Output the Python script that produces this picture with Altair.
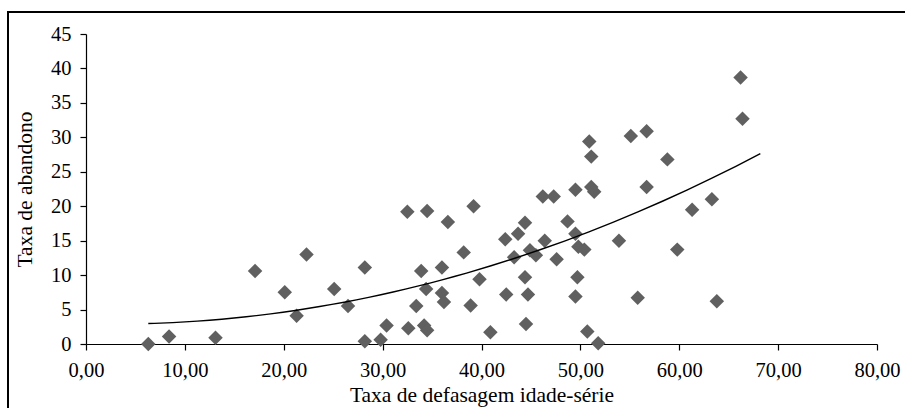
import altair as alt
import pandas as pd

# Taxa de defasagem idade-série (x) vs. taxa de abandono (y), one point per unit
defasagem = [
    6.3, 8.4, 13.1, 17.1, 20.1, 21.3, 22.3, 25.1, 26.5, 28.2,
    28.2, 29.8, 30.4, 32.5, 32.6, 33.4, 33.9, 34.2, 34.5, 34.4,
    34.5, 36.0, 36.0, 36.2, 36.6, 38.2, 38.9, 39.2, 39.8, 40.9,
    42.4, 42.5, 43.3, 43.7, 44.4, 44.4, 44.5, 44.7, 44.9, 45.5,
    46.2, 46.4, 47.3, 47.6, 48.7, 49.5, 49.5, 49.5, 49.7, 49.8,
    50.4, 50.7, 50.9, 51.1, 51.1, 51.4, 51.8, 53.9, 55.1, 55.8,
    56.7, 56.7, 58.8, 59.8, 61.3, 63.3, 63.8, 66.2, 66.4,
]
abandono = [
    0.0, 1.1, 0.9, 10.6, 7.5, 4.1, 13.0, 8.0, 5.5, 11.1,
    0.4, 0.6, 2.7, 19.2, 2.3, 5.5, 10.6, 2.7, 2.0, 8.0,
    19.3, 11.1, 7.4, 6.1, 17.7, 13.3, 5.6, 20.0, 9.4, 1.7,
    15.2, 7.2, 12.6, 16.0, 17.6, 9.7, 2.9, 7.2, 13.6, 12.9,
    21.4, 15.0, 21.4, 12.3, 17.8, 22.4, 16.0, 6.9, 9.7, 14.1,
    13.7, 1.8, 29.4, 27.2, 22.8, 22.1, 0.1, 15.0, 30.2, 6.7,
    30.9, 22.8, 26.8, 13.7, 19.5, 21.0, 6.2, 38.7, 32.7,
]
trend_extent = [6.3, 68.2]
x_ticks = list(range(0, 81, 10))
y_ticks = list(range(0, 46, 5))

df = pd.DataFrame({"x": defasagem, "y": abandono})

FONT = "Liberation Serif"

common_axis = dict(
    grid=False,
    ticks=True,
    tickSize=6,
    tickColor="black",
    tickWidth=1.2,
    domainColor="black",
    domainWidth=1.2,
    labelOverlap=False,
    labelFlush=False,
    labelFont=FONT,
    labelFontSize=20.5,
    labelColor="black",
    titleFont=FONT,
    titleFontSize=21.5,
    titleFontWeight="normal",
    titleColor="black",
)

x_enc = alt.X(
    "x:Q",
    scale=alt.Scale(domain=[0, 80], nice=False),
    axis=alt.Axis(
        values=x_ticks,
        tickCount=len(x_ticks),
        labelExpr="replace(format(datum.value, '.2f'), '.', ',')",
        title="Taxa de defasagem idade-série",
        labelPadding=10,
        titlePadding=4,
        **common_axis,
    ),
)
y_enc = alt.Y(
    "y:Q",
    scale=alt.Scale(domain=[0, 45], nice=False),
    axis=alt.Axis(
        values=y_ticks,
        tickCount=len(y_ticks),
        title="Taxa de abandono",
        labelPadding=9,
        titlePadding=14,
        **common_axis,
    ),
)

points = alt.Chart(df).mark_point(
    shape="diamond", filled=True, size=210, color="#606060", opacity=1
).encode(x=x_enc, y=y_enc)

trend = (
    alt.Chart(df)
    .transform_regression("x", "y", method="poly", order=2, extent=trend_extent)
    .mark_line(color="black", strokeWidth=1.4)
    .encode(x=x_enc, y=y_enc)
)

# outer frame around the figure
frame = alt.Chart(df).mark_rect(
    fill="transparent", stroke="black", strokeWidth=1.5
).encode(
    x=alt.value(-78), x2=alt.value(900), y=alt.value(-22), y2=alt.value(480)
)

chart = (
    alt.layer(points, trend, frame)
    .properties(
        width=791,
        height=310,
        autosize=alt.AutoSizeParams(type="none"),
        padding={"left": 86, "top": 34, "right": 28, "bottom": 64},
        background="white",
    )
    .configure_view(stroke=None)
)

chart.save("out.html", embed_options={"renderer": "svg", "actions": False})
